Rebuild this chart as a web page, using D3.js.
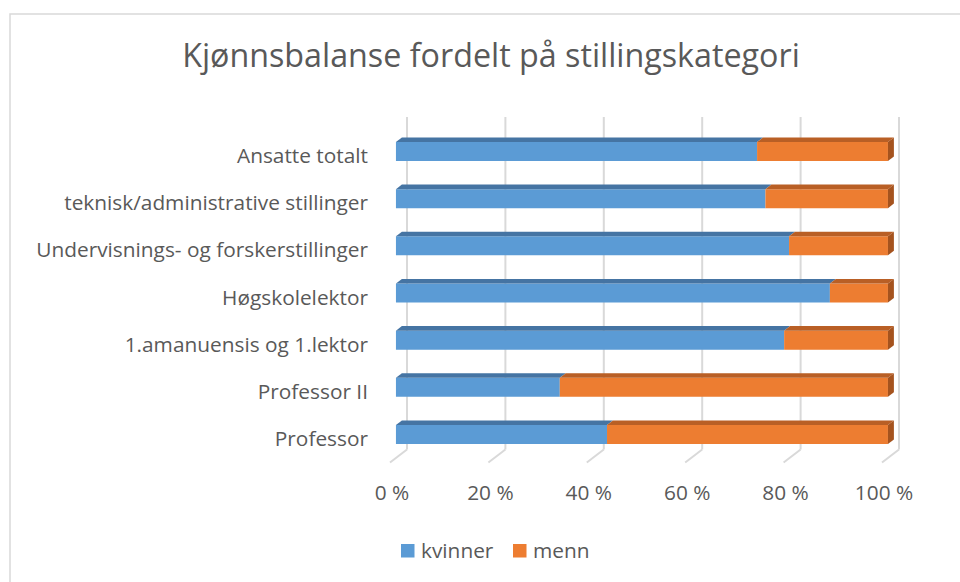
<!DOCTYPE html>
<html>
<head>
<meta charset="utf-8">
<script src="https://cdn.jsdelivr.net/npm/d3@7"></script>
<style>
  html, body { margin: 0; padding: 0; background: #fff; }
  svg { display: block; }
  text { font-family: "Open Sans", "Noto Sans", sans-serif; fill: #595959; }
</style>
</head>
<body>
<svg id="chart" width="960" height="582"></svg>
<script>
// ---- data (top-to-bottom order as shown) ----
const categories = [
  "Ansatte totalt",
  "teknisk/administrative stillinger",
  "Undervisnings- og forskerstillinger",
  "Høgskolelektor",
  "1.amanuensis og 1.lektor",
  "Professor II",
  "Professor"
];
const seriesNames = ["kvinner", "menn"];
const kvinner = [73.4, 75.1, 79.9, 88.2, 78.9, 33.3, 42.9];
const menn    = [26.6, 24.9, 20.1, 11.8, 21.1, 66.7, 57.1];
const tickValues = [0, 20, 40, 60, 80, 100];
const tickLabels = ["0 %", "20 %", "40 %", "60 %", "80 %", "100 %"];
const title = "Kjønnsbalanse fordelt på stillingskategori";

// ---- layout ----
const svg = d3.select("#chart");
const colors = {
  front: ["#5b9bd5", "#ed7d31"],
  top:   ["#4574a3", "#b95f25"],
  side:  ["#41719c", "#a5531e"]
};
const depthX = 17, depthY = 13;       // full depth projection
const zFront = 0.35, zBack = 0.7;     // bar depth range

const x = d3.scaleLinear().domain([0, 100]).range([390, 882]);
const y = d3.scaleBand().domain(categories)
  .range([127.9, 458.1]).paddingInner(0.597).paddingOuter(0.2985);

const P = (v, yy, z) => [x(v) + z * depthX, yy - z * depthY];

// chart border
svg.append("rect").attr("x", 10).attr("y", 14).attr("width", 980).attr("height", 600)
  .attr("fill", "none").attr("stroke", "#d9d9d9").attr("stroke-width", 1.5);

// title
const t = svg.append("text").attr("x", 491).attr("y", 67)
  .attr("text-anchor", "middle").style("font-size", "30px").text(title);
const tw = t.node().getComputedTextLength();
t.style("font-size", (30 * 618 / tw) + "px");

// gridlines on back wall + floor ticks
const gTop = 117;
const grid = svg.append("g");
tickValues.forEach(v => {
  const back = P(v, 462.5, 1);
  grid.append("line").attr("x1", back[0]).attr("x2", back[0])
    .attr("y1", gTop).attr("y2", back[1])
    .attr("stroke", "#d9d9d9").attr("stroke-width", 2);
  const front = P(v, 462.5, 0);
  grid.append("line").attr("x1", front[0]).attr("y1", front[1])
    .attr("x2", back[0]).attr("y2", back[1])
    .attr("stroke", "#d9d9d9").attr("stroke-width", 2);
});

// tick labels
const tickG = svg.append("g");
tickValues.forEach((v, i) => {
  tickG.append("text").attr("x", x(v) + 2).attr("y", 500)
    .attr("text-anchor", "middle").style("font-size", "18px").text(tickLabels[i]);
});

// bars
const barH = y.bandwidth();
const bars = svg.append("g");
const poly = pts => pts.map(p => p.join(",")).join(" ");
categories.forEach((c, i) => {
  const vals = [kvinner[i], menn[i]];
  let acc = 0;
  const segs = vals.map(v => { const s = [acc, acc + v]; acc += v; return s; });
  // the front y of the bar is at depth zFront
  const y0 = y(c) + zFront * depthY, y1 = y0 + barH;
  segs.forEach((s, k) => {
    // front face
    bars.append("polygon").attr("points", poly([
      P(s[0], y0, zFront), P(s[1], y0, zFront), P(s[1], y1, zFront), P(s[0], y1, zFront)
    ])).attr("fill", colors.front[k]);
    // top face
    bars.append("polygon").attr("points", poly([
      P(s[0], y0, zFront), P(s[1], y0, zFront), P(s[1], y0, zBack), P(s[0], y0, zBack)
    ])).attr("fill", colors.top[k]);
  });
  // right side face of last segment
  const last = segs[segs.length - 1];
  bars.append("polygon").attr("points", poly([
    P(last[1], y0, zFront), P(last[1], y0, zBack), P(last[1], y1, zBack), P(last[1], y1, zFront)
  ])).attr("fill", colors.side[1]);
});

// category labels
const labG = svg.append("g");
const labs = categories.map(c => {
  const y0 = y(c) + zFront * depthY;
  return labG.append("text").attr("x", 368).attr("y", y0 + barH / 2 + 7)
    .attr("text-anchor", "end").style("font-size", "18px").text(c);
});
const lw = labs[2].node().getComputedTextLength();
const fs = 18 * 332 / lw;
labs.forEach(l => l.style("font-size", fs + "px"));
tickG.selectAll("text").style("font-size", fs + "px");

// legend
const leg = svg.append("g");
const legItems = [
  {name: seriesNames[0], sx: 401, tx: 421, color: colors.front[0]},
  {name: seriesNames[1], sx: 513, tx: 533, color: colors.front[1]}
];
legItems.forEach(d => {
  leg.append("rect").attr("x", d.sx).attr("y", 544).attr("width", 13.5).attr("height", 13.5)
    .attr("fill", d.color);
  leg.append("text").attr("x", d.tx).attr("y", 557.5).style("font-size", fs + "px").text(d.name);
});
</script>
</body>
</html>
